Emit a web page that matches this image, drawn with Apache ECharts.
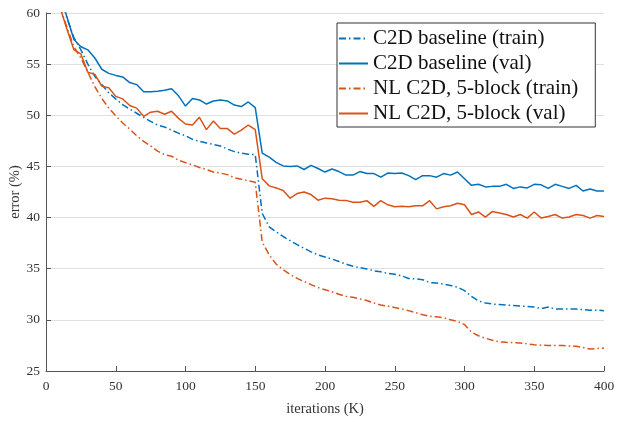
<!DOCTYPE html>
<html>
<head>
<meta charset="utf-8">
<script src="https://cdn.jsdelivr.net/npm/echarts@6/dist/echarts.min.js"></script>
<style>html,body{margin:0;padding:0;background:#fff}#c{width:642px;height:422px}</style>
</head>
<body>
<div id="c"></div>
<script>
// iterations (K)
var iterations = [10,15,20,25,30,35,40,45,50,55,60,65,70,75,80,85,90,95,100,105,110,115,120,125,130,135,140,145,150,155,160,165,170,175,180,185,190,195,200,205,210,215,220,225,230,235,240,245,250,255,260,265,270,275,280,285,290,295,300,305,310,315,320,325,330,335,340,345,350,355,360,365,370,375,380,385,390,395,400];

var c2dTrain = [62.0,59.5,57.6,56.4,55.0,53.8,53.0,52.2,51.6,51.05,50.6,50.2,49.8,49.4,49.05,48.85,48.55,48.25,48.0,47.65,47.45,47.3,47.15,47.0,46.7,46.45,46.3,46.2,46.15,40.4,39.1,38.6,38.15,37.75,37.35,37.0,36.65,36.35,36.15,35.95,35.7,35.45,35.25,35.1,34.98,34.8,34.7,34.55,34.45,34.3,34.05,34.0,33.93,33.65,33.6,33.5,33.35,33.2,32.85,32.3,31.85,31.65,31.55,31.5,31.45,31.4,31.35,31.3,31.25,31.1,31.25,31.07,31.07,31.07,31.05,31.0,30.95,30.95,30.9];

var c2dVal = [62.0,59.6,57.4,56.7,56.4,55.6,54.5,54.1,53.9,53.75,53.2,53.0,52.3,52.3,52.35,52.45,52.6,51.9,50.9,51.65,51.5,51.1,51.4,51.5,51.4,51.0,50.85,51.3,50.75,46.3,45.9,45.4,45.05,45.0,45.05,44.7,45.1,44.8,44.45,44.75,44.5,44.15,44.15,44.5,44.3,44.3,43.95,44.35,44.3,44.35,44.1,43.7,44.1,44.1,43.95,44.3,44.15,44.45,43.8,43.15,43.25,43.0,43.05,43.05,43.25,42.85,43.0,42.9,43.25,43.2,42.85,43.25,43.05,42.85,43.15,42.6,42.8,42.6,42.6];

var nlTrain = [60.6,58.6,56.7,55.6,54.2,52.8,51.65,50.7,49.95,49.25,48.65,48.0,47.45,47.0,46.5,46.15,46.0,45.6,45.37,45.15,44.9,44.7,44.45,44.35,44.2,43.9,43.75,43.6,43.45,37.6,36.35,35.45,34.9,34.45,34.05,33.75,33.45,33.15,32.95,32.75,32.5,32.3,32.2,32.05,31.9,31.65,31.45,31.35,31.2,31.07,30.9,30.7,30.5,30.35,30.3,30.2,30.0,29.85,29.55,28.8,28.45,28.2,28.0,27.85,27.8,27.78,27.74,27.65,27.57,27.52,27.5,27.5,27.5,27.45,27.41,27.3,27.15,27.2,27.25];

var nlVal = [60.6,58.4,56.4,56.0,54.2,54.0,52.85,52.7,51.85,51.6,50.95,50.7,49.9,50.3,50.4,50.1,50.4,49.7,49.15,49.05,49.8,48.6,49.45,48.7,48.7,48.15,48.55,49.05,48.6,43.8,43.1,42.9,42.65,41.9,42.35,42.5,42.25,41.7,41.9,41.85,41.7,41.68,41.5,41.5,41.65,41.1,41.65,41.25,41.05,41.1,41.05,41.15,41.15,41.65,40.85,41.05,41.15,41.4,41.25,40.3,40.55,40.05,40.6,40.45,40.3,40.05,40.3,39.95,40.55,39.95,40.1,40.3,39.95,40.05,40.3,40.2,39.95,40.2,40.1];

var seriesNames = ['C2D baseline (train)','C2D baseline (val)','NL C2D, 5-block (train)','NL C2D, 5-block (val)'];
var xTicks = [0,50,100,150,200,250,300,350,400];
var yTicks = [25,30,35,40,45,50,55,60];
var xTitle = 'iterations (K)';
var yTitle = 'error (%)';

function pairs(vals){ return iterations.map(function(x,i){ return [x, vals[i]]; }); }

var BLUE = '#0072BD', ORANGE = '#D95319';
var DASHDOT = [7,3,1.5,3];
var FONT = '"Liberation Serif", "Times New Roman", serif';

function mk(name, vals, color, dashed){
  return {
    name: name, type: 'line', data: pairs(vals),
    symbol: 'none', showSymbol: false, clip: true, animation: false,
    lineStyle: { color: color, width: 1.5, type: dashed ? DASHDOT : 'solid' },
    itemStyle: { color: color }
  };
}

var chart = echarts.init(document.getElementById('c'), null, {renderer: 'canvas'});
chart.setOption({
  backgroundColor: '#fff',
  animation: false,
  grid: { left: 46, right: 38, top: 13, bottom: 51, containLabel: false, outerBoundsMode: 'none' },
  graphic: [{
    type: 'text', x: 15, y: 192, rotation: Math.PI / 2, silent: true,
    style: { text: yTitle, fontFamily: FONT, fontSize: 14.5, fill: '#333', align: 'center', verticalAlign: 'middle' }
  }],
  legend: {
    orient: 'vertical', left: 337, top: 23,
    data: seriesNames,
    backgroundColor: '#fff', borderColor: '#333', borderWidth: 1,
    padding: [5, 17, 3, 1],
    itemWidth: 29, itemHeight: 14, itemGap: 4,
    itemStyle: { opacity: 0 },
    textStyle: { fontFamily: FONT, fontSize: 21, color: '#111', lineHeight: 21 }
  },
  xAxis: {
    type: 'value', min: 0, max: 400, interval: 50,
    name: xTitle, nameLocation: 'middle', nameGap: 31,
    nameTextStyle: { fontFamily: FONT, fontSize: 14.5, color: '#333' },
    axisLine: { show: true, onZero: false, lineStyle: { color: '#555', width: 1 } },
    axisTick: { show: true, inside: true, length: 5, lineStyle: { color: '#555' } },
    axisLabel: { fontFamily: FONT, fontSize: 13.5, color: '#333', margin: 8,
      formatter: function(v){ return xTicks.indexOf(v) >= 0 ? String(v) : ''; } },
    splitLine: { show: false }
  },
  yAxis: {
    type: 'value', min: 25, max: 60, interval: 5,
    axisLine: { show: true, lineStyle: { color: '#555', width: 1 } },
    axisTick: { show: true, inside: true, length: 5, lineStyle: { color: '#555' } },
    axisLabel: { fontFamily: FONT, fontSize: 13.5, color: '#333', margin: 6,
      formatter: function(v){ return yTicks.indexOf(v) >= 0 ? String(v) : ''; } },
    splitLine: { show: true, lineStyle: { color: '#e0e0e0', width: 1 } }
  },
  series: [
    mk(seriesNames[0], c2dTrain, BLUE, true),
    mk(seriesNames[1], c2dVal, BLUE, false),
    mk(seriesNames[2], nlTrain, ORANGE, true),
    mk(seriesNames[3], nlVal, ORANGE, false)
  ]
});
</script>
</body>
</html>
